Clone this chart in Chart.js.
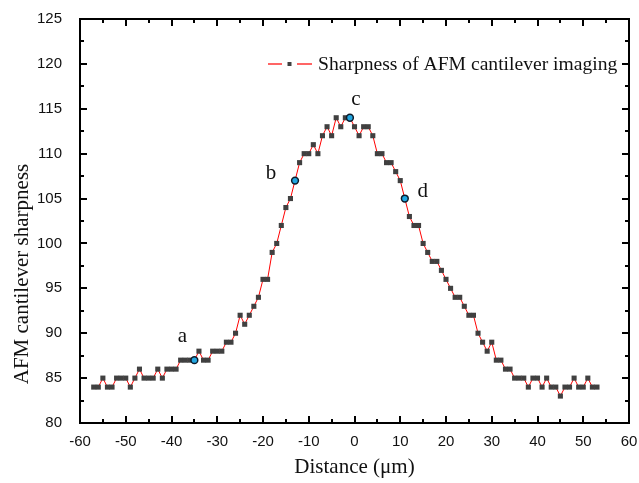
<!DOCTYPE html>
<html>
<head>
<meta charset="utf-8">
<script src="https://cdn.jsdelivr.net/npm/chart.js@4.4.1/dist/chart.umd.min.js"></script>
<style>
  html, body { margin: 0; padding: 0; background: #fff; }
  #wrap { width: 639px; height: 483px; }
</style>
</head>
<body>
<div id="wrap"><canvas id="sharpChart" width="639" height="483"></canvas></div>
<script>
// ── Data ───────────────────────────────────────────────────────
const distance = [
  -57, -56, -55, -54, -53, -52, -51, -50, -49, -48,
  -47, -46, -45, -44, -43, -42, -41, -40, -39, -38,
  -37, -36, -35, -34, -33, -32, -31, -30, -29, -28,
  -27, -26, -25, -24, -23, -22, -21, -20, -19, -18,
  -17, -16, -15, -14, -13, -12, -11, -10, -9, -8,
  -7, -6, -5, -4, -3, -2, -1, 0, 1, 2,
  3, 4, 5, 6, 7, 8, 9, 10, 11, 12,
  13, 14, 15, 16, 17, 18, 19, 20, 21, 22,
  23, 24, 25, 26, 27, 28, 29, 30, 31, 32,
  33, 34, 35, 36, 37, 38, 39, 40, 41, 42,
  43, 44, 45, 46, 47, 48, 49, 50, 51, 52,
  53
];
const sharpness = [
  84, 84, 85, 84, 84, 85, 85, 85, 84, 85,
  86, 85, 85, 85, 86, 85, 86, 86, 86, 87,
  87, 87, 87, 88, 87, 87, 88, 88, 88, 89,
  89, 90, 92, 91, 92, 93, 94, 96, 96, 99,
  100, 102, 104, 105, 107, 109, 110, 110, 111, 110,
  112, 113, 112, 114, 113, 114, 114, 113, 112, 113,
  113, 112, 110, 110, 109, 109, 108, 107, 105, 103,
  102, 102, 100, 99, 98, 98, 97, 96, 95, 94,
  94, 93, 92, 92, 90, 89, 88, 89, 87, 87,
  86, 86, 85, 85, 85, 84, 85, 85, 84, 85,
  84, 84, 83, 84, 84, 85, 84, 84, 85, 84,
  84
];
const markLabels = ['a', 'b', 'c', 'd'];
const markX = [-35, -13, -1, 11];
const markY = [87, 107, 114, 105];
const xTicks = [-60, -50, -40, -30, -20, -10, 0, 10, 20, 30, 40, 50, 60];
const yTicks = [80, 85, 90, 95, 100, 105, 110, 115, 120, 125];

const RED = '#ff0000';
const MARK = '#404040';
const BLUE = '#22a6e0';
const SANS = "'Liberation Sans', Arial, sans-serif";
const SERIF = "'Liberation Serif', 'Times New Roman', serif";
const SERIES_NAME = 'Sharpness of AFM cantilever imaging';

// ── Box frame + inward major/minor ticks, letters, legend, y title ─
const labelOffsets = [[-12, -18], [-24, -2], [6, -13], [18, -2]];
function drawDecorations(chart) {
  const c = chart.ctx;
  const xs = chart.scales.x;
  const ys = chart.scales.y;
  const left = Math.round(xs.getPixelForValue(xTicks[0]));
  const right = Math.round(xs.getPixelForValue(xTicks[xTicks.length - 1]));
  const top = Math.round(ys.getPixelForValue(yTicks[yTicks.length - 1]));
  const bottom = Math.round(ys.getPixelForValue(yTicks[0]));

  c.save();
  c.fillStyle = '#000';
  // frame
  c.fillRect(left - 1, top - 1, right - left + 2, 2);
  c.fillRect(left - 1, bottom - 1, right - left + 2, 2);
  c.fillRect(left - 1, top - 1, 2, bottom - top + 2);
  c.fillRect(right - 1, top - 1, 2, bottom - top + 2);
  // x ticks (major every 10, minor halfway)
  for (let i = 0; i < xTicks.length; i++) {
    const px = Math.round(xs.getPixelForValue(xTicks[i]));
    c.fillRect(px - 1, bottom - 7, 2, 7);
    c.fillRect(px - 1, top, 2, 7);
    if (i < xTicks.length - 1) {
      const mx = Math.round(xs.getPixelForValue((xTicks[i] + xTicks[i + 1]) / 2));
      c.fillRect(mx - 1, bottom - 4, 2, 4);
      c.fillRect(mx - 1, top, 2, 4);
    }
  }
  // y ticks
  for (let i = 0; i < yTicks.length; i++) {
    const py = Math.round(ys.getPixelForValue(yTicks[i]));
    c.fillRect(left, py - 1, 7, 2);
    c.fillRect(right - 7, py - 1, 7, 2);
    if (i < yTicks.length - 1) {
      const my = Math.round(ys.getPixelForValue((yTicks[i] + yTicks[i + 1]) / 2));
      c.fillRect(left, my - 1, 4, 2);
      c.fillRect(right - 4, my - 1, 4, 2);
    }
  }

  // letters next to highlighted points
  c.fillStyle = '#111';
  c.font = '21px ' + SERIF;
  c.textAlign = 'center';
  c.textBaseline = 'alphabetic';
  for (let i = 0; i < markLabels.length; i++) {
    const off = labelOffsets[i];
    c.fillText(markLabels[i], xs.getPixelForValue(markX[i]) + off[0], ys.getPixelForValue(markY[i]) + off[1]);
  }

  // legend: red line, grey square, red line, then series name
  const ly = top + 45;
  const lx = right - 361;
  c.fillStyle = RED;
  c.fillRect(lx, ly - 0.6, 14, 1.2);
  c.fillRect(lx + 29, ly - 0.6, 15, 1.2);
  c.fillStyle = MARK;
  c.fillRect(lx + 19.5, ly - 2, 4, 4);
  c.fillStyle = '#111';
  c.textAlign = 'left';
  c.font = '19.6px ' + SERIF;
  c.fillText(SERIES_NAME, lx + 50, ly + 6);

  // y axis title (sits a little below the plot centre in the original)
  c.translate(22, 274);
  c.rotate(-Math.PI / 2);
  c.textAlign = 'center';
  c.textBaseline = 'middle';
  c.font = '21px ' + SERIF;
  c.fillText('AFM cantilever sharpness', 0, 0);
  c.restore();
}

const decorations = {
  id: 'decorations',
  afterDatasetsDraw(chart) {
    drawDecorations(chart);
  }
};

// ── Chart ───────────────────────────────────────────────────────
new Chart(document.getElementById('sharpChart'), {
  type: 'line',
  data: {
    datasets: [
      {
        label: SERIES_NAME,
        data: distance.map((d, i) => ({ x: d, y: sharpness[i] })),
        borderColor: RED,
        borderWidth: 1,
        pointStyle: 'rect',
        pointRadius: 3.6,
        pointBackgroundColor: MARK,
        pointBorderWidth: 0,
        tension: 0,
        order: 1,
      },
      {
        label: 'marked',
        data: markX.map((d, i) => ({ x: d, y: markY[i] })),
        showLine: false,
        pointStyle: 'circle',
        pointRadius: 3.4,
        pointBackgroundColor: BLUE,
        pointBorderColor: '#0d1b2a',
        pointBorderWidth: 1.5,
        order: 0,
      },
    ],
  },
  options: {
    responsive: false,
    animation: false,
    layout: { padding: { top: 19, right: 10, left: 0, bottom: 0 } },
    plugins: {
      legend: { display: false },
      tooltip: { enabled: false },
    },
    scales: {
      x: {
        type: 'linear',
        min: -60,
        max: 60,
        afterBuildTicks: (s) => { s.ticks = xTicks.map(v => ({ value: v })); },
        afterFit: (s) => { s.height = 60; s.paddingLeft = 0; s.paddingRight = 0; },
        grid: { display: false, drawTicks: false },
        border: { display: false },
        ticks: { padding: 10, color: '#111', font: { family: SANS, size: 15 }, maxRotation: 0, autoSkip: false },
        title: {
          display: true,
          text: 'Distance (μm)',
          color: '#111',
          font: { family: SERIF, size: 21 },
          padding: { top: 0, bottom: 3 },
        },
      },
      y: {
        type: 'linear',
        min: 80,
        max: 125,
        afterBuildTicks: (s) => { s.ticks = yTicks.map(v => ({ value: v })); },
        afterFit: (s) => { s.width = 80; s.paddingTop = 0; s.paddingBottom = 0; },
        grid: { display: false, drawTicks: false },
        border: { display: false },
        ticks: { padding: 18, color: '#111', font: { family: SANS, size: 15 } },
      },
    },
  },
  plugins: [decorations],
});
</script>
</body>
</html>
